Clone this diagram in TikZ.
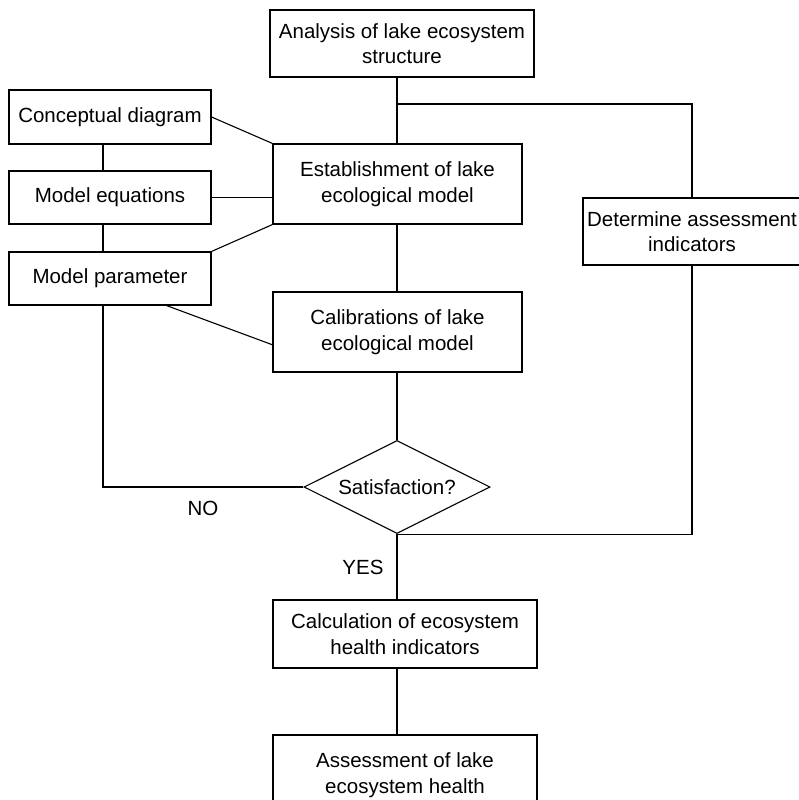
\documentclass[tikz,border=0pt]{standalone}
\usepackage{fontspec}
\setmainfont{Liberation Sans}
\usetikzlibrary{shapes.geometric}
\begin{document}
\begin{tikzpicture}[x=1pt,y=-1pt,
  line width=1.1pt,
  every node/.style={font=\fontsize{20.5}{25.5}\selectfont, align=center, inner sep=0pt},
  box/.style={draw, rectangle},
  decision/.style={draw, diamond, aspect=2},
  tag/.style={font=\fontsize{20.5}{25.5}\selectfont}]
\useasboundingbox (0,0) rectangle (799,800);

% process boxes
\node[box, minimum width=264, minimum height=67] (analysis) at (402,43.5) {Analysis of lake ecosystem\\structure};
\node[box, minimum width=249, minimum height=80] (establish) at (397.5,184) {Establishment of lake\\ecological model};
\node[box, minimum width=202, minimum height=54] (concept) at (110,117) {Conceptual diagram};
\node[box, minimum width=202, minimum height=53] (equations) at (110,197.5) {Model equations};
\node[box, minimum width=202, minimum height=53] (param) at (110,278.5) {Model parameter};
\node[box, minimum width=249, minimum height=80] (calib) at (397.5,332) {Calibrations of lake\\ecological model};
\node[box, minimum width=218, minimum height=67] (indic) at (692,231.5) {Determine assessment\\indicators};
\node[decision, minimum width=186, minimum height=93] (satis) at (397,487) {Satisfaction?};
\node[box, minimum width=264, minimum height=68] (calc) at (405,634) {Calculation of ecosystem\\health indicators};
\node[box, minimum width=264, minimum height=80] (assess) at (405,775) {Assessment of lake\\ecosystem health};

% labels
\node[tag] (no) at (203,508) {NO};
\node[tag] (yes) at (363,567) {YES};

% helper points
\coordinate (split) at (397,104);
\coordinate (left) at (103,0);
\coordinate (pfoot) at (165,305);
\coordinate (cin) at (273,345);

% connectors
\draw (split |- analysis.south) -- (split |- establish.north);
\draw (split) -| (indic.north);
\draw (concept.east) -- (establish.north west);
\draw (equations.east) -- (equations.east -| establish.west);
\draw (param.north east) -- (establish.south west);
\draw (left |- concept.south) -- (left |- equations.north);
\draw (left |- equations.south) -- (left |- param.north);
\draw (pfoot) -- (cin);
\draw (split |- establish.south) -- (split |- calib.north);
\draw (split |- calib.south) -- (satis.north);
\draw (satis.west) -| (left |- param.south);
\draw (satis.south) -| (indic.south);
\draw (satis.south) -- (satis.south |- calc.north);
\draw (satis.south |- calc.south) -- (satis.south |- assess.north);
\end{tikzpicture}
\end{document}
